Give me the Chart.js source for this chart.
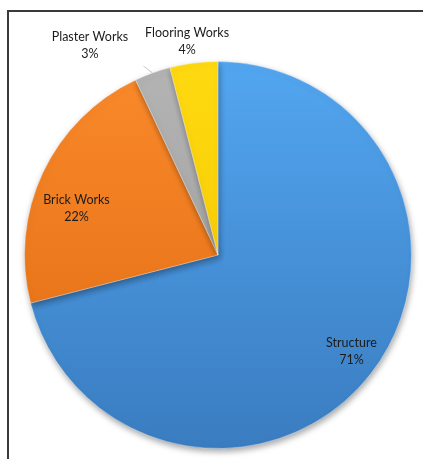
<!DOCTYPE html>
<html>
<head>
<meta charset="utf-8">
<script src="https://cdn.jsdelivr.net/npm/chart.js@4"></script>
<style>
  html, body { margin: 0; padding: 0; background: #fff; width: 423px; height: 459px; overflow: hidden; }
  #topline { position: absolute; left: 7px; top: 10px; width: 416px; height: 2px; background: #3a3a3a; }
  #leftline { position: absolute; left: 7px; top: 10px; width: 2px; height: 449px; background: #3a3a3a; }
  #wrap { position: absolute; left: 0; top: 0; width: 423px; height: 459px; }
</style>
</head>
<body>
<div id="topline"></div>
<div id="leftline"></div>
<div id="wrap"><canvas id="c" width="423" height="459"></canvas></div>
<script>
const categories = ['Structure', 'Brick Works', 'Plaster Works', 'Flooring Works'];
const shares = [71, 22, 3, 4];

const topColors = ['#52a6f0', '#fa8a2c', '#b4b4b4', '#ffda10'];
const bottomColors = ['#3a7cc0', '#e06a10', '#979797', '#f2c200'];

// label placement: [radius factor, angle offset in degrees]
const labelPlacement = [[0.85, -2], [0.77, -7], [1.27, -11.6], [1.12, -1]];

function grad(ctx, i) {
  const chart = ctx.chart;
  const a = chart.chartArea;
  if (!a) return topColors[i];
  const g = chart.ctx.createLinearGradient(0, a.top, 0, a.bottom);
  g.addColorStop(0, topColors[i]);
  g.addColorStop(1, bottomColors[i]);
  return g;
}

const shadowPlugin = {
  id: 'shadow',
  beforeDatasetsDraw(chart) {
    const c = chart.ctx;
    c.save();
    c.shadowColor = 'rgba(0,0,0,0.35)';
    c.shadowBlur = 6;
    c.shadowOffsetX = 1;
    c.shadowOffsetY = 3;
  },
  afterDatasetsDraw(chart) {
    chart.ctx.restore();
  }
};

const labelPlugin = {
  id: 'sliceLabels',
  afterDraw(chart) {
    const c = chart.ctx;
    const meta = chart.getDatasetMeta(0);
    const data = chart.data.datasets[0].data;
    c.save();
    c.font = '12.5px Lato, "Open Sans", sans-serif';
    c.fillStyle = '#1c1c1c';
    c.textAlign = 'center';
    c.textBaseline = 'middle';
    meta.data.forEach((arc, i) => {
      const p = arc.getProps(['x', 'y', 'startAngle', 'endAngle', 'outerRadius'], true);
      const mid = (p.startAngle + p.endAngle) / 2 + labelPlacement[i][1] * Math.PI / 180;
      const r = p.outerRadius * labelPlacement[i][0];
      const x = p.x + Math.cos(mid) * r;
      const y = p.y + Math.sin(mid) * r;
      c.fillText(chart.data.labels[i], x, y - 8);
      c.fillText(data[i] + '%', x, y + 9);
    });
    // leader line for Plaster Works
    const pa = meta.data[2].getProps(['x', 'y', 'startAngle', 'endAngle', 'outerRadius'], true);
    const m = (pa.startAngle + pa.endAngle) / 2;
    c.strokeStyle = 'rgba(160,160,160,0.6)';
    c.lineWidth = 1;
    c.beginPath();
    c.moveTo(pa.x + Math.cos(m) * pa.outerRadius * 1.0, pa.y + Math.sin(m) * pa.outerRadius * 1.0);
    c.lineTo(pa.x + Math.cos(m - 0.03) * pa.outerRadius * 1.05, pa.y + Math.sin(m - 0.03) * pa.outerRadius * 1.05);
    c.stroke();
    c.restore();
  }
};

new Chart(document.getElementById('c'), {
  type: 'pie',
  data: {
    labels: categories,
    datasets: [{
      data: shares,
      backgroundColor: (ctx) => grad(ctx, ctx.dataIndex),
      borderColor: 'rgba(255,255,255,0.35)',
      borderWidth: 1
    }]
  },
  options: {
    responsive: false,
    animation: false,
    layout: { padding: { left: 24, right: 11, top: 61, bottom: 10 } },
    plugins: {
      legend: { display: false },
      tooltip: { enabled: false }
    }
  },
  plugins: [shadowPlugin, labelPlugin]
});
</script>
</body>
</html>
